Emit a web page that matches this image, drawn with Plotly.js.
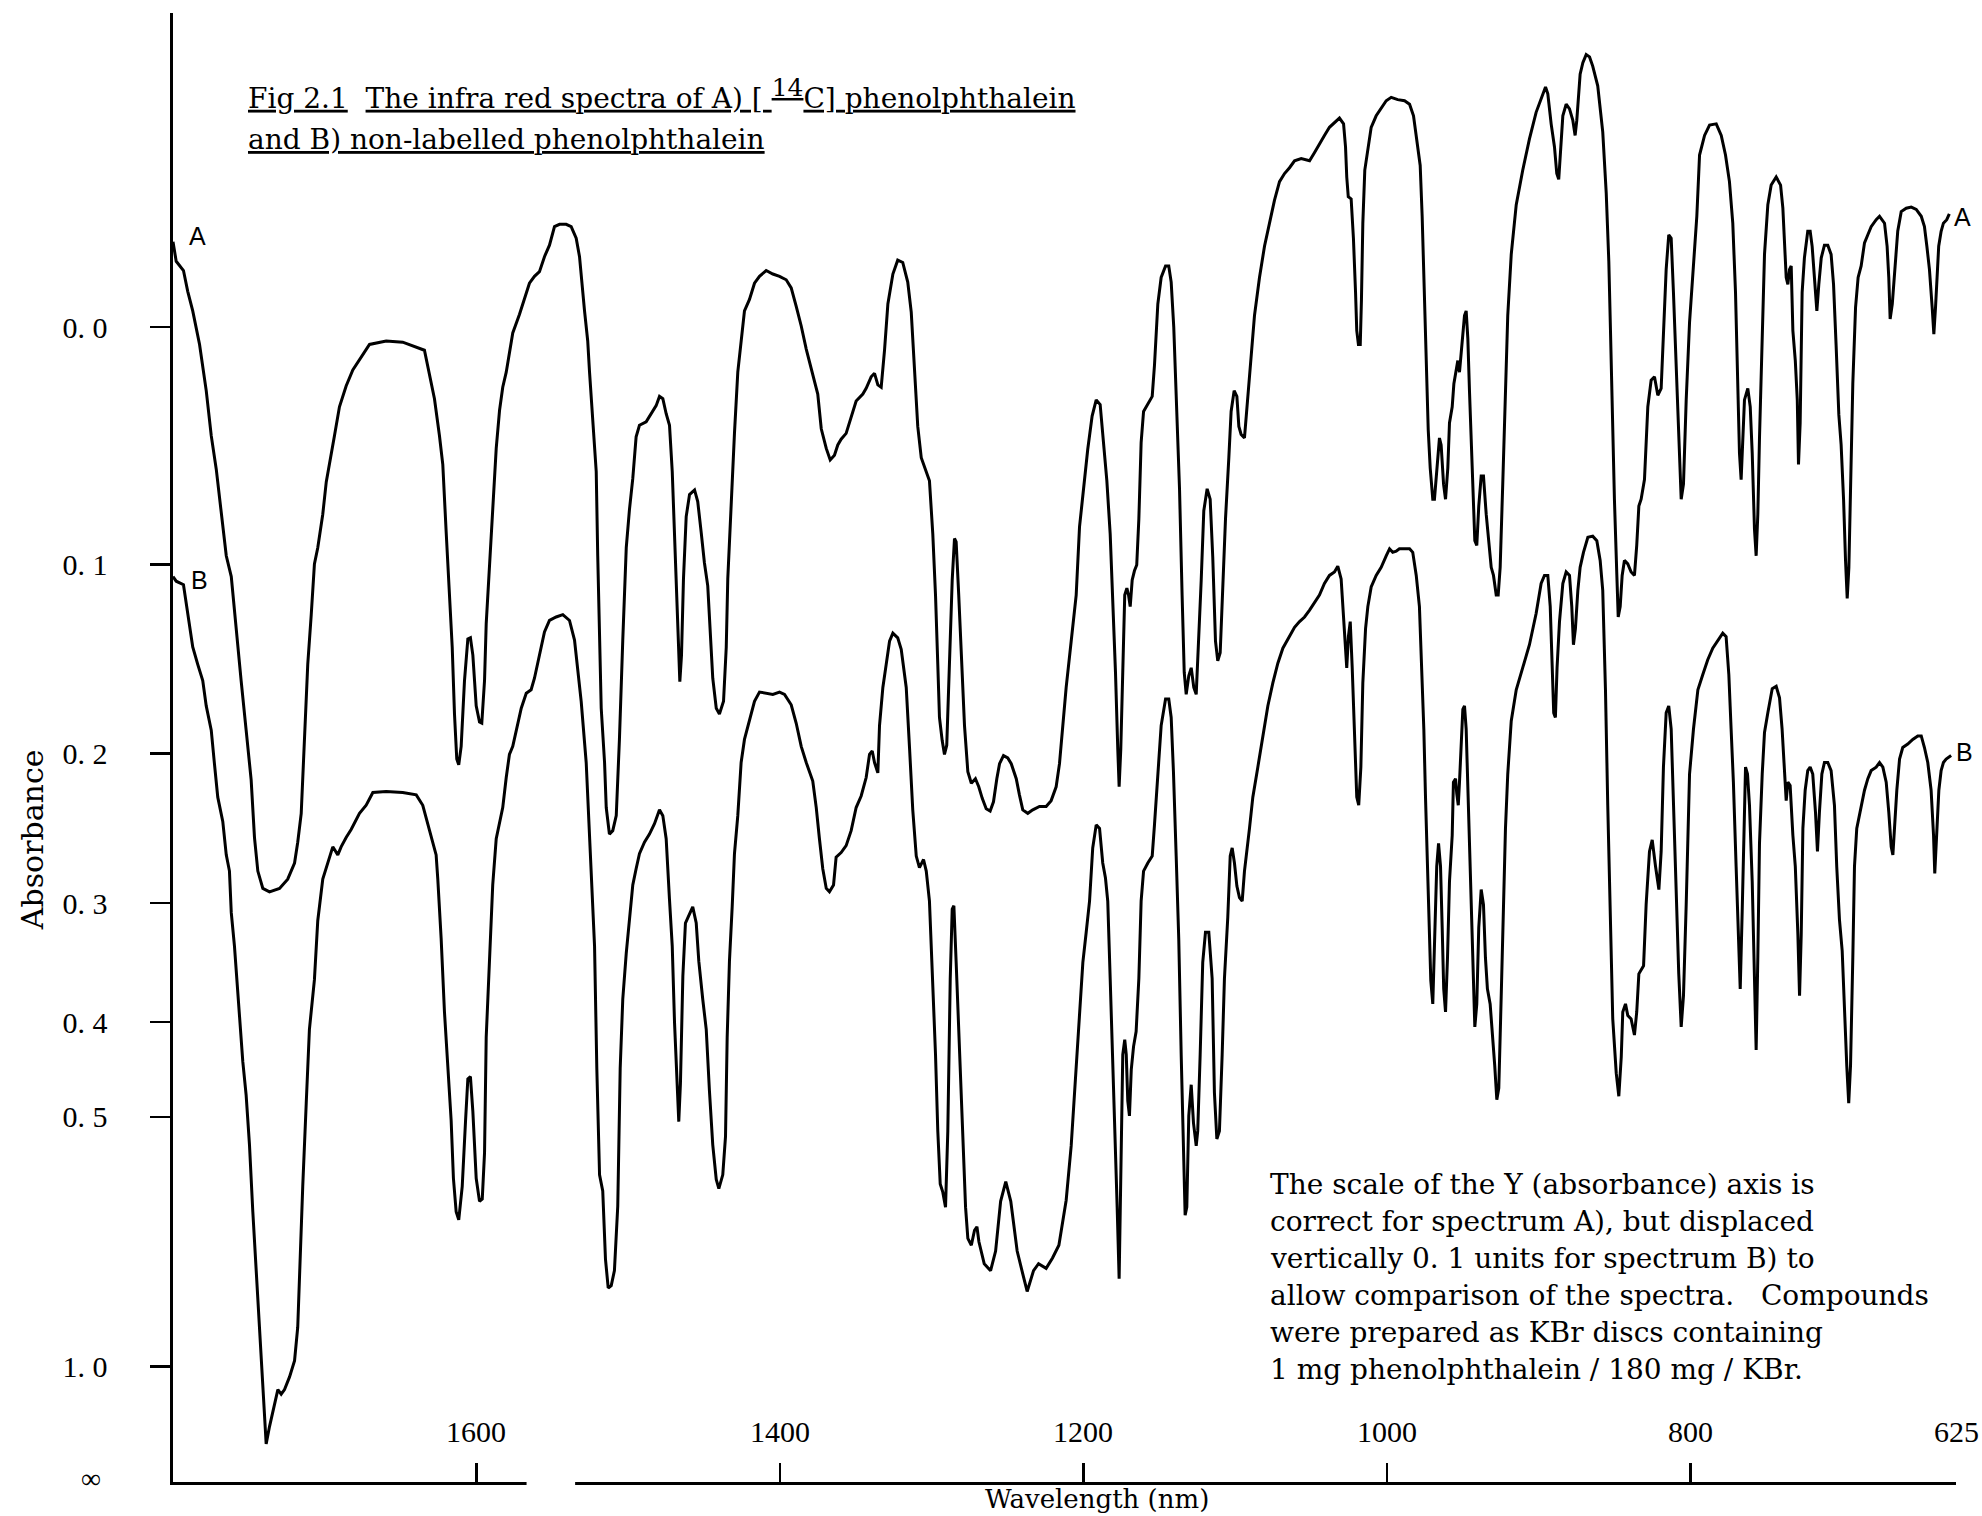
<!DOCTYPE html>
<html>
<head>
<meta charset="utf-8">
<script src="https://cdn.plot.ly/plotly-3.0.1.min.js"></script>
<style>html,body{margin:0;padding:0;background:#fff;}</style>
</head>
<body>
<div id="chart" style="width:1982px;height:1516px;"></div>
<script>
// Spectrum A: [wavenumber, transmittance] (axis is linear in transmittance, labelled in absorbance)
const spectrumA = [
[1800,1.074],[1797.9,1.057],[1793.1,1.049],[1790.3,1.031],[1787.0,1.014],[1782.5,0.985],[1778.1,0.945],[1774.8,0.906],[1771.5,0.877],[1768.2,0.838],
[1764.9,0.802],[1761.6,0.784],[1758.4,0.737],[1755.1,0.694],[1751.8,0.651],[1748.5,0.608],[1746.3,0.558],[1744.1,0.529],[1740.8,0.514],[1736.4,0.511],
[1729.8,0.514],[1724.4,0.522],[1719.9,0.536],[1717.8,0.554],[1715.5,0.579],[1713.3,0.651],[1711.2,0.708],[1708.9,0.751],[1706.8,0.795],[1704.6,0.809],
[1701.3,0.838],[1699.0,0.866],[1695.8,0.888],[1693.6,0.906],[1690.3,0.931],[1685.9,0.949],[1681.5,0.963],[1676.0,0.974],[1670.5,0.985],[1659.5,0.988],
[1648.6,0.987],[1634.3,0.980],[1631.0,0.960],[1627.7,0.938],[1624.4,0.906],[1622.2,0.881],[1620.0,0.823],[1617.8,0.773],[1616.0,0.723],[1614.5,0.665],
[1613.0,0.626],[1611.7,0.621],[1610.1,0.637],[1607.9,0.694],[1605.7,0.730],[1604.0,0.731],[1602.4,0.716],[1600.2,0.672],[1598.0,0.658],[1596.5,0.657],
[1594.7,0.694],[1593.6,0.743],[1591.4,0.796],[1589.3,0.849],[1587.0,0.895],[1584.8,0.928],[1582.7,0.948],[1580.4,0.961],[1576.1,0.995],[1571.7,1.011],
[1565.1,1.038],[1561.8,1.044],[1558.5,1.048],[1555.2,1.061],[1551.9,1.071],[1548.6,1.087],[1545.3,1.089],[1540.9,1.089],[1537.6,1.087],[1534.3,1.077],
[1532.1,1.061],[1528.8,1.014],[1526.7,0.988],[1525.5,0.961],[1523.4,0.915],[1521.1,0.875],[1520.1,0.802],[1518.9,0.723],[1517.8,0.670],[1515.6,0.623],
[1514.5,0.584],[1512.4,0.561],[1510.2,0.564],[1507.9,0.577],[1505.8,0.643],[1503.6,0.729],[1501.3,0.809],[1499.2,0.842],[1497.0,0.869],[1494.8,0.905],
[1492.6,0.915],[1488.2,0.918],[1484.9,0.925],[1481.6,0.932],[1479.4,0.940],[1477.2,0.938],[1475.0,0.925],[1472.8,0.915],[1471.0,0.875],[1469.5,0.822],
[1468.0,0.769],[1466.9,0.716],[1466.0,0.693],[1464.9,0.716],[1463.6,0.782],[1461.8,0.836],[1459.6,0.855],[1456.3,0.859],[1454.2,0.849],[1451.9,0.822],
[1449.8,0.796],[1447.6,0.776],[1446.0,0.736],[1444.3,0.696],[1442.0,0.670],[1439.9,0.665],[1437.2,0.676],[1435.4,0.723],[1434.4,0.782],[1432.2,0.849],
[1430.0,0.908],[1427.8,0.961],[1425.6,0.988],[1423.4,1.014],[1420.1,1.024],[1416.8,1.038],[1413.5,1.044],[1409.1,1.049],[1404.7,1.046],[1400.3,1.044],
[1395.9,1.041],[1392.6,1.034],[1389.3,1.018],[1386.0,1.001],[1382.7,0.981],[1379.4,0.965],[1377.3,0.955],[1375.1,0.942],[1372.8,0.912],[1369.5,0.895],
[1366.9,0.885],[1364.1,0.889],[1361.9,0.898],[1359.7,0.903],[1356.4,0.908],[1353.1,0.922],[1349.8,0.936],[1345.4,0.942],[1343.2,0.947],[1339.9,0.957],
[1337.7,0.960],[1335.5,0.950],[1333.3,0.948],[1331.1,0.980],[1328.9,1.020],[1325.6,1.046],[1322.4,1.058],[1319.1,1.056],[1315.8,1.039],[1313.5,1.013],
[1311.4,0.967],[1309.2,0.914],[1306.9,0.887],[1303.6,0.874],[1301.5,0.867],[1299.3,0.821],[1297.5,0.768],[1296.0,0.708],[1294.9,0.662],[1293.1,0.642],
[1291.6,0.630],[1290.1,0.638],[1288.3,0.715],[1286.5,0.781],[1285.0,0.817],[1283.9,0.814],[1282.2,0.768],[1280.6,0.715],[1278.4,0.655],[1276.2,0.615],
[1273.9,0.605],[1271.2,0.609],[1269.0,0.602],[1266.7,0.592],[1264.1,0.583],[1261.5,0.581],[1259.3,0.589],[1257.1,0.609],[1255.3,0.622],[1252.7,0.629],
[1249.9,0.627],[1247.6,0.622],[1244.3,0.609],[1242.2,0.595],[1240.0,0.582],[1236.7,0.579],[1233.4,0.582],[1229.0,0.585],[1224.6,0.585],[1221.3,0.590],
[1218.0,0.602],[1215.8,0.622],[1213.6,0.655],[1211.4,0.688],[1208.1,0.728],[1204.8,0.768],[1202.6,0.827],[1200.4,0.854],[1197.2,0.894],[1194.3,0.923],
[1191.6,0.937],[1189.0,0.933],[1186.8,0.900],[1184.6,0.867],[1182.4,0.821],[1180.7,0.768],[1178.9,0.701],[1177.4,0.635],[1176.5,0.602],[1175.4,0.635],
[1174.1,0.708],[1172.8,0.768],[1171.4,0.774],[1170.3,0.768],[1169.2,0.758],[1167.9,0.781],[1166.4,0.789],[1164.9,0.794],[1163.5,0.834],[1162.0,0.900],
[1160.4,0.927],[1157.6,0.933],[1154.7,0.940],[1153.2,0.967],[1151.0,1.020],[1148.8,1.043],[1145.9,1.053],[1143.8,1.053],[1142.2,1.039],[1140.5,1.000],
[1138.5,0.933],[1136.7,0.860],[1135.0,0.768],[1133.6,0.701],[1132.3,0.682],[1130.6,0.698],[1129.0,0.705],[1127.3,0.688],[1125.7,0.682],[1124.0,0.728],
[1122.4,0.781],[1120.7,0.841],[1118.5,0.860],[1116.5,0.851],[1114.8,0.801],[1113.0,0.728],[1111.5,0.711],[1109.9,0.718],[1108.2,0.774],[1106.4,0.834],
[1104.2,0.887],[1102.7,0.927],[1100.7,0.945],[1098.9,0.940],[1097.6,0.914],[1096.1,0.907],[1093.9,0.904],[1091.7,0.937],[1089.5,0.971],[1087.3,1.010],
[1084.0,1.043],[1080.7,1.070],[1077.4,1.090],[1074.1,1.110],[1070.8,1.126],[1067.5,1.133],[1064.2,1.138],[1060.9,1.144],[1056.5,1.146],[1051.0,1.144],
[1047.8,1.151],[1044.5,1.159],[1041.2,1.166],[1037.9,1.173],[1034.6,1.177],[1031.3,1.181],[1028.6,1.176],[1027.3,1.156],[1026.5,1.130],[1025.5,1.113],
[1023.6,1.111],[1022.1,1.077],[1020.7,1.030],[1019.9,0.997],[1018.8,0.985],[1017.6,0.985],[1016.8,1.024],[1015.9,1.090],[1014.6,1.136],[1012.6,1.153],
[1010.4,1.173],[1007.1,1.183],[1003.8,1.189],[1000.5,1.196],[997.2,1.199],[992.9,1.197],[988.4,1.196],[985.1,1.193],[982.5,1.183],[980.3,1.163],
[978.1,1.140],[976.8,1.096],[975.7,1.050],[974.6,1.004],[973.7,0.957],[972.8,0.911],[971.5,0.878],[969.8,0.851],[968.7,0.851],[966.9,0.878],
[965.4,0.904],[964.3,0.898],[962.7,0.864],[961.4,0.851],[959.9,0.878],[958.8,0.917],[957.0,0.931],[955.9,0.951],[954.4,0.964],[953.3,0.971],
[952.2,0.961],[951.5,0.971],[950.4,0.984],[948.9,1.010],[947.8,1.014],[946.7,0.990],[945.6,0.944],[944.5,0.898],[943.4,0.851],[942.1,0.815],
[940.8,0.811],[939.5,0.845],[937.9,0.871],[936.4,0.871],[934.6,0.838],[932.9,0.811],[931.3,0.792],[929.8,0.785],[928.0,0.768],[926.7,0.768],
[925.4,0.792],[923.7,0.864],[921.9,0.944],[920.4,1.010],[918.1,1.063],[914.8,1.106],[910.5,1.136],[906.1,1.163],[901.7,1.186],[897.3,1.202],
[895.5,1.208],[894.0,1.202],[891.8,1.176],[889.6,1.156],[888.1,1.133],[886.8,1.128],[885.6,1.149],[884.1,1.183],[881.9,1.193],[879.7,1.189],
[877.5,1.179],[876.0,1.166],[874.9,1.179],[873.6,1.202],[872.7,1.219],[870.9,1.229],[868.7,1.236],[866.5,1.234],[864.4,1.226],[861.1,1.209],
[857.8,1.169],[855.5,1.116],[853.8,1.057],[852.7,0.997],[851.6,0.931],[850.1,0.851],[848.5,0.785],[847.6,0.749],[846.3,0.758],[845.0,0.785],
[843.5,0.798],[841.3,0.795],[839.1,0.788],[836.9,0.785],[835.4,0.811],[834.0,0.845],[832.5,0.851],[830.3,0.868],[828.1,0.931],[825.9,0.954],
[823.7,0.957],[821.5,0.941],[819.3,0.947],[817.6,0.997],[816.0,1.050],[814.3,1.080],[812.7,1.077],[811.2,1.030],[809.4,0.964],[807.7,0.898],
[806.1,0.851],[804.6,0.864],[802.8,0.937],[800.6,1.004],[798.4,1.050],[795.8,1.096],[794.0,1.149],[790.7,1.166],[787.4,1.175],[783.0,1.176],
[779.7,1.166],[776.9,1.149],[774.3,1.126],[772.1,1.090],[770.3,1.030],[768.8,0.951],[767.7,0.891],[766.6,0.868],[765.5,0.904],[764.4,0.937],
[762.2,0.947],[760.6,0.931],[759.3,0.891],[757.8,0.825],[756.7,0.802],[755.6,0.838],[754.5,0.904],[752.7,0.997],[751.2,1.063],[749.0,1.106],
[746.8,1.123],[743.5,1.130],[740.6,1.123],[739.1,1.103],[738.0,1.077],[736.9,1.043],[735.8,1.037],[734.7,1.050],[733.6,1.053],[732.5,0.997],
[730.9,0.971],[729.6,0.937],[728.8,0.881],[727.7,0.917],[726.4,1.030],[724.9,1.060],[722.7,1.083],[721.1,1.083],[719.8,1.070],[718.3,1.043],
[716.7,1.014],[715.4,1.037],[713.8,1.060],[711.7,1.071],[709.5,1.071],[707.3,1.063],[705.7,1.037],[704.0,0.984],[702.2,0.924],[700.7,0.898],
[699.1,0.851],[697.8,0.798],[696.7,0.765],[695.6,0.792],[694.5,0.871],[693.0,0.951],[691.2,1.017],[689.5,1.043],[687.5,1.053],[685.3,1.073],
[683.1,1.080],[680.9,1.087],[677.6,1.093],[675.4,1.096],[672.1,1.090],[670.4,1.070],[669.3,1.043],[668.4,1.007],[667.0,1.020],[665.5,1.050],
[663.4,1.083],[661.1,1.100],[657.8,1.103],[654.5,1.104],[651.2,1.102],[647.9,1.096],[645.8,1.087],[644.2,1.070],[642.5,1.050],[640.7,1.017],
[639.6,0.994],[638.5,1.017],[637.4,1.050],[636.4,1.070],[634.8,1.083],[633.3,1.090],[631.1,1.093],[629.4,1.098]
];

// Spectrum B: [wavenumber, transmittance] (drawn displaced by 0.1 absorbance units)
const spectrumB = [
[1800,0.784],[1797.9,0.780],[1793.1,0.777],[1791.3,0.762],[1789.1,0.744],[1787.0,0.723],[1783.7,0.708],[1780.4,0.694],[1778.1,0.672],[1774.8,0.651],
[1772.7,0.622],[1770.5,0.593],[1767.2,0.572],[1764.9,0.543],[1762.8,0.529],[1761.6,0.493],[1759.5,0.464],[1756.2,0.407],[1754.0,0.364],[1751.8,0.335],
[1749.6,0.292],[1747.4,0.234],[1745.2,0.184],[1743.0,0.134],[1741.2,0.091],[1739.7,0.048],[1738.6,0.033],[1736.4,0.048],[1733.1,0.069],[1730.9,0.080],
[1728.7,0.076],[1726.5,0.080],[1723.2,0.091],[1719.9,0.105],[1717.8,0.134],[1716.6,0.184],[1714.5,0.256],[1712.2,0.328],[1710.1,0.392],[1706.8,0.435],
[1704.6,0.486],[1701.3,0.522],[1698.0,0.536],[1694.7,0.550],[1691.4,0.543],[1689.2,0.550],[1685.9,0.558],[1682.6,0.565],[1677.1,0.579],[1672.7,0.586],
[1668.3,0.597],[1659.5,0.598],[1648.6,0.597],[1639.7,0.595],[1635.4,0.586],[1631.0,0.565],[1626.6,0.543],[1625.5,0.522],[1623.3,0.471],[1621.1,0.407],
[1618.9,0.364],[1616.7,0.313],[1615.2,0.263],[1613.4,0.234],[1611.7,0.227],[1609.4,0.256],[1607.2,0.313],[1605.7,0.349],[1604.0,0.351],[1602.4,0.321],
[1600.2,0.263],[1598.0,0.243],[1596.2,0.245],[1594.7,0.285],[1593.6,0.385],[1591.4,0.458],[1589.3,0.517],[1587.0,0.557],[1584.8,0.570],[1582.7,0.584],
[1580.4,0.610],[1578.3,0.630],[1576.1,0.637],[1573.8,0.650],[1570.5,0.670],[1567.2,0.683],[1564.0,0.686],[1561.8,0.696],[1558.5,0.716],[1555.2,0.736],
[1551.9,0.746],[1547.5,0.749],[1543.1,0.751],[1538.7,0.746],[1535.4,0.729],[1533.2,0.703],[1531.0,0.676],[1527.7,0.623],[1524.4,0.524],[1522.2,0.464],
[1520.7,0.358],[1518.9,0.266],[1516.8,0.252],[1515.0,0.193],[1513.2,0.168],[1511.2,0.170],[1509.1,0.183],[1506.9,0.239],[1505.3,0.358],[1503.6,0.418],
[1501.3,0.458],[1499.2,0.484],[1497.0,0.517],[1494.8,0.531],[1492.6,0.544],[1489.3,0.554],[1486.0,0.561],[1482.7,0.570],[1479.4,0.582],[1477.2,0.577],
[1475.0,0.557],[1472.8,0.504],[1471.0,0.464],[1469.5,0.398],[1467.7,0.339],[1466.7,0.312],[1465.6,0.345],[1464.0,0.438],[1462.3,0.484],[1460.1,0.491],
[1457.5,0.498],[1455.2,0.484],[1453.5,0.451],[1450.9,0.418],[1448.6,0.392],[1446.5,0.339],[1444.3,0.292],[1442.0,0.262],[1440.3,0.254],[1437.7,0.266],
[1435.9,0.299],[1434.8,0.385],[1433.3,0.451],[1431.5,0.498],[1430.0,0.544],[1427.8,0.577],[1425.6,0.623],[1423.4,0.643],[1420.1,0.660],[1416.8,0.676],
[1413.5,0.684],[1409.1,0.683],[1404.7,0.682],[1400.3,0.684],[1397.0,0.682],[1392.6,0.673],[1389.3,0.657],[1386.0,0.637],[1382.7,0.623],[1378.4,0.607],
[1376.1,0.584],[1374.0,0.557],[1371.8,0.531],[1369.5,0.514],[1367.4,0.511],[1364.7,0.517],[1363.0,0.541],[1359.7,0.545],[1356.4,0.551],[1353.1,0.564],
[1349.8,0.584],[1346.5,0.594],[1343.2,0.610],[1341.0,0.630],[1339.2,0.633],[1337.7,0.623],[1335.5,0.614],[1334.4,0.655],[1332.2,0.688],[1330.0,0.708],
[1327.8,0.728],[1325.6,0.735],[1322.4,0.731],[1320.1,0.721],[1316.8,0.688],[1314.6,0.635],[1312.5,0.582],[1310.2,0.542],[1308.1,0.532],[1305.4,0.539],
[1303.6,0.529],[1301.5,0.503],[1299.3,0.436],[1297.5,0.370],[1296.0,0.304],[1294.4,0.258],[1292.7,0.251],[1290.9,0.238],[1289.4,0.304],[1287.8,0.436],
[1286.5,0.496],[1285.4,0.499],[1283.9,0.450],[1281.7,0.370],[1279.5,0.291],[1277.7,0.238],[1276.2,0.211],[1273.9,0.205],[1271.8,0.218],[1270.2,0.221],
[1268.9,0.208],[1265.4,0.189],[1261.2,0.183],[1257.9,0.200],[1254.6,0.243],[1251.2,0.260],[1247.9,0.243],[1243.7,0.200],[1239.6,0.178],[1237.1,0.165],
[1232.9,0.183],[1229.6,0.189],[1224.6,0.185],[1220.4,0.194],[1216.2,0.205],[1211.4,0.244],[1208.1,0.291],[1204.8,0.357],[1202.6,0.403],[1200.4,0.450],
[1198.2,0.476],[1196.0,0.503],[1193.9,0.549],[1191.6,0.569],[1189.4,0.566],[1187.3,0.536],[1185.5,0.523],[1184.0,0.503],[1182.4,0.436],[1180.7,0.370],
[1179.1,0.304],[1177.8,0.238],[1176.5,0.176],[1175.2,0.304],[1174.1,0.370],[1172.8,0.383],[1171.8,0.370],[1170.8,0.330],[1169.7,0.317],[1168.5,0.357],
[1167.0,0.377],[1165.3,0.390],[1163.5,0.436],[1162.0,0.503],[1160.4,0.529],[1157.6,0.536],[1154.7,0.542],[1153.2,0.569],[1151.0,0.615],[1148.8,0.655],
[1145.9,0.678],[1143.8,0.678],[1142.2,0.662],[1140.7,0.615],[1138.9,0.542],[1137.2,0.470],[1135.6,0.370],[1134.1,0.271],[1133.0,0.231],[1131.9,0.238],
[1130.6,0.317],[1129.0,0.344],[1127.5,0.311],[1125.7,0.291],[1124.7,0.304],[1123.1,0.370],[1121.4,0.450],[1119.6,0.476],[1117.4,0.476],[1115.2,0.436],
[1113.7,0.337],[1112.1,0.297],[1110.4,0.304],[1108.6,0.370],[1107.1,0.436],[1104.9,0.489],[1103.3,0.542],[1102.0,0.549],[1100.5,0.536],[1098.9,0.516],
[1097.2,0.506],[1095.4,0.503],[1093.9,0.529],[1090.6,0.566],[1088.4,0.593],[1085.1,0.619],[1081.8,0.646],[1078.5,0.672],[1075.2,0.692],[1071.9,0.709],
[1068.6,0.722],[1064.2,0.732],[1060.9,0.740],[1057.6,0.745],[1054.3,0.749],[1051.0,0.755],[1047.8,0.762],[1044.5,0.768],[1041.2,0.778],[1037.9,0.785],
[1034.6,0.788],[1032.4,0.793],[1030.2,0.782],[1028.6,0.745],[1027.3,0.719],[1026.5,0.705],[1025.4,0.732],[1024.2,0.745],[1022.9,0.705],[1021.4,0.639],
[1019.9,0.593],[1018.6,0.586],[1017.2,0.619],[1015.9,0.692],[1014.1,0.739],[1012.6,0.758],[1010.4,0.775],[1007.1,0.785],[1003.8,0.792],[1000.5,0.802],
[998.3,0.808],[996.2,0.805],[993.9,0.806],[991.8,0.808],[988.4,0.808],[985.1,0.808],[983.0,0.805],[980.7,0.785],[978.6,0.758],[977.0,0.705],
[975.7,0.652],[974.6,0.593],[973.5,0.540],[972.4,0.487],[971.1,0.434],[969.8,0.414],[968.5,0.474],[967.2,0.533],[966.0,0.553],[964.7,0.533],
[963.6,0.480],[962.6,0.427],[961.4,0.407],[960.1,0.454],[958.8,0.520],[957.0,0.560],[956.2,0.606],[954.8,0.609],[954.0,0.596],[953.0,0.586],
[952.2,0.606],[951.1,0.646],[950.0,0.669],[948.9,0.672],[947.8,0.652],[946.5,0.593],[945.1,0.533],[943.4,0.454],[942.1,0.394],[940.8,0.414],
[939.5,0.480],[937.9,0.513],[936.4,0.500],[935.1,0.454],[933.8,0.427],[932.0,0.414],[930.3,0.387],[929.0,0.361],[927.6,0.331],[926.3,0.341],
[924.7,0.421],[923.2,0.500],[921.9,0.566],[920.4,0.613],[918.1,0.659],[914.8,0.686],[910.5,0.705],[906.1,0.725],[901.7,0.752],[898.4,0.778],
[896.2,0.785],[894.0,0.785],[892.4,0.758],[891.1,0.705],[890.1,0.666],[889.0,0.662],[887.9,0.705],[886.3,0.745],[884.1,0.778],[881.9,0.788],
[879.7,0.785],[878.2,0.758],[877.1,0.725],[875.8,0.739],[874.2,0.772],[872.7,0.792],[870.5,0.805],[867.6,0.818],[864.4,0.819],[861.7,0.815],
[859.5,0.798],[857.8,0.772],[856.0,0.686],[854.5,0.586],[852.9,0.487],[851.2,0.401],[848.9,0.354],[847.2,0.334],[845.6,0.368],[844.6,0.407],
[842.8,0.414],[841.3,0.404],[839.1,0.401],[836.9,0.387],[835.4,0.407],[834.0,0.440],[830.9,0.447],[829.2,0.500],[827.0,0.546],[825.2,0.556],
[823.0,0.533],[820.8,0.513],[819.3,0.546],[817.8,0.619],[816.0,0.666],[814.3,0.672],[812.7,0.652],[811.2,0.586],[809.4,0.507],[807.7,0.440],
[806.1,0.394],[804.6,0.421],[802.8,0.500],[800.6,0.613],[798.0,0.652],[795.1,0.686],[791.9,0.699],[788.6,0.712],[785.3,0.722],[782.0,0.729],
[778.7,0.735],[776.5,0.732],[774.7,0.699],[773.2,0.652],[771.7,0.606],[769.9,0.533],[768.4,0.467],[767.2,0.427],[765.9,0.494],[764.6,0.586],
[763.7,0.619],[762.4,0.613],[761.1,0.586],[759.3,0.520],[758.0,0.454],[756.7,0.374],[755.6,0.454],[754.5,0.553],[752.7,0.613],[751.2,0.649],
[749.0,0.666],[746.1,0.687],[743.5,0.689],[741.3,0.679],[739.6,0.652],[738.2,0.619],[736.9,0.590],[735.8,0.606],[734.3,0.603],[732.5,0.560],
[730.9,0.533],[729.2,0.474],[728.1,0.421],[727.0,0.474],[725.9,0.566],[724.4,0.599],[722.7,0.616],[721.1,0.619],[719.4,0.613],[717.6,0.580],
[716.3,0.546],[715.0,0.580],[713.4,0.613],[711.7,0.623],[709.5,0.623],[707.3,0.616],[705.1,0.586],[703.6,0.533],[701.8,0.487],[700.0,0.460],
[698.5,0.401],[697.0,0.361],[695.7,0.328],[694.5,0.361],[693.0,0.454],[691.9,0.533],[690.4,0.566],[688.2,0.580],[685.3,0.599],[683.1,0.609],
[680.9,0.616],[677.6,0.619],[675.4,0.623],[673.2,0.619],[671.0,0.606],[669.3,0.580],[667.7,0.550],[666.6,0.543],[665.5,0.566],[664.0,0.599],
[662.2,0.626],[660.1,0.636],[656.8,0.639],[653.5,0.643],[650.2,0.646],[647.9,0.646],[645.8,0.636],[643.6,0.623],[641.4,0.599],[639.8,0.560],
[639.0,0.527],[637.6,0.560],[636.3,0.599],[634.8,0.616],[633.3,0.623],[631.5,0.626],[628.2,0.629]
];

const absorbanceTicks = [0.0, 0.1, 0.2, 0.3, 0.4, 0.5, 1.0];
const absorbanceTickLabels = ['0. 0', '0. 1', '0. 2', '0. 3', '0. 4', '0. 5', '1. 0'];
const wavelengthTicks = [1600, 1400, 1200, 1000, 800, 625];
const wavelengthTickLabels = ['1600', '1400', '1200', '1000', '800', '625'];
const seriesNames = ['A', 'B'];
const titleLines = [
  '<u>Fig 2.1</u>\u00A0\u00A0<u>The infra red spectra of A) [\u00A0<sup><span style="font-size:25px">14</span></sup>C] phenolphthalein</u>',
  '<u>and B) non-labelled phenolphthalein</u>'
];
const noteLines = [
  'The scale of the Y (absorbance) axis is',
  'correct for spectrum A), but displaced',
  'vertically 0. 1 units for spectrum B) to',
  'allow comparison of the spectra.\u00A0\u00A0\u00A0Compounds',
  'were prepared as KBr discs containing',
  '1 mg phenolphthalein / 180 mg / KBr.'
];

const serif = 'DejaVu Serif, serif';
const tickSerif = 'Liberation Serif, Times New Roman, serif';

function trace(data, name) {
  return {
    type: 'scatter', mode: 'lines', name: name,
    x: data.map(p => p[0]), y: data.map(p => p[1]),
    line: {color: '#000', width: 3},
    hoverinfo: 'skip'
  };
}

const annotations = [];
// x tick labels drawn above the axis line
wavelengthTicks.forEach((v, i) => annotations.push({
  x: v, xref: 'x', y: 0, yref: 'paper', yanchor: 'bottom', yshift: 32,
  text: wavelengthTickLabels[i], showarrow: false,
  font: {family: tickSerif, size: 30, color: '#000'}
}));
annotations.push({x: 0, xref: 'paper', xanchor: 'right', xshift: -70, y: 0, yref: 'y', yanchor: 'middle', yshift: 4,
  text: '\u221E', showarrow: false, font: {family: tickSerif, size: 28, color: '#000'}});
annotations.push({x: 0.518, xref: 'paper', xanchor: 'center', y: -0.0116, yref: 'paper', yanchor: 'middle', borderpad: 0,
  text: 'Wavelength (nm)', showarrow: false, font: {family: serif, size: 26, color: '#000'}});
annotations.push({x: -0.079, xref: 'paper', xanchor: 'center', y: 0.437, yref: 'paper', yanchor: 'middle',
  text: 'Absorbance', textangle: -90, showarrow: false, font: {family: serif, size: 30, color: '#000'}});
// title lines
const titleY = [0.945, 0.914];
titleLines.forEach((t, i) => annotations.push({
  x: 0.041, xref: 'paper', xanchor: 'left', y: titleY[i], yref: 'paper', yanchor: 'middle',
  text: t, showarrow: false, align: 'left', font: {family: serif, size: 28, color: '#000'}
}));
// note lines
noteLines.forEach((t, i) => annotations.push({
  x: 0.614, xref: 'paper', xanchor: 'left', y: 0.2025 - i * 0.0252, yref: 'paper', yanchor: 'middle',
  text: t, showarrow: false, align: 'left', font: {family: serif, size: 28, color: '#000'}
}));
// series labels
const labelPos = [[0.014, 0.848, 1.0034, 0.861], [0.0151, 0.614, 1.0045, 0.497]];
seriesNames.forEach((n, i) => {
  annotations.push({x: labelPos[i][0], xref: 'paper', y: labelPos[i][1], yref: 'paper', xanchor: 'center', yanchor: 'middle',
    text: n, showarrow: false, font: {family: 'Liberation Sans, Arial, sans-serif', size: 25, color: '#000'}});
  annotations.push({x: labelPos[i][2], xref: 'paper', y: labelPos[i][3], yref: 'paper', xanchor: 'center', yanchor: 'middle',
    text: n, showarrow: false, font: {family: 'Liberation Sans, Arial, sans-serif', size: 25, color: '#000'}});
});

const layout = {
  width: 1982, height: 1516,
  margin: {l: 173, r: 26, t: 13, b: 34, pad: 0},
  paper_bgcolor: '#fff', plot_bgcolor: '#fff',
  showlegend: false,
  xaxis: {
    range: [1800, 625], showgrid: false, zeroline: false,
    showline: true, linecolor: '#000', linewidth: 2.5,
    ticks: 'inside', ticklen: 19, tickwidth: 2.5, tickcolor: '#000',
    tickmode: 'array', tickvals: wavelengthTicks, showticklabels: false
  },
  yaxis: {
    range: [0, 1.272], showgrid: false, zeroline: false,
    showline: true, linecolor: '#000', linewidth: 3.5,
    ticks: 'outside', ticklen: 20, tickwidth: 2.5, tickcolor: '#000',
    tickmode: 'array', tickvals: absorbanceTicks.map(a => Math.pow(10, -a)), ticktext: absorbanceTickLabels,
    tickfont: {family: tickSerif, size: 30, color: '#000'},
    ticklabelstandoff: 36
  },
  // break in the scanned baseline between 1600 and 1400
  shapes: [{type: 'rect', layer: 'above', xref: 'x', yref: 'paper', x0: 1567, x1: 1535, y0: -0.004, y1: 0.004,
    fillcolor: '#fff', line: {width: 0}}],
  annotations: annotations
};

Plotly.newPlot('chart', [trace(spectrumA, 'A'), trace(spectrumB, 'B')], layout, {staticPlot: true, displayModeBar: false});
</script>
</body>
</html>
